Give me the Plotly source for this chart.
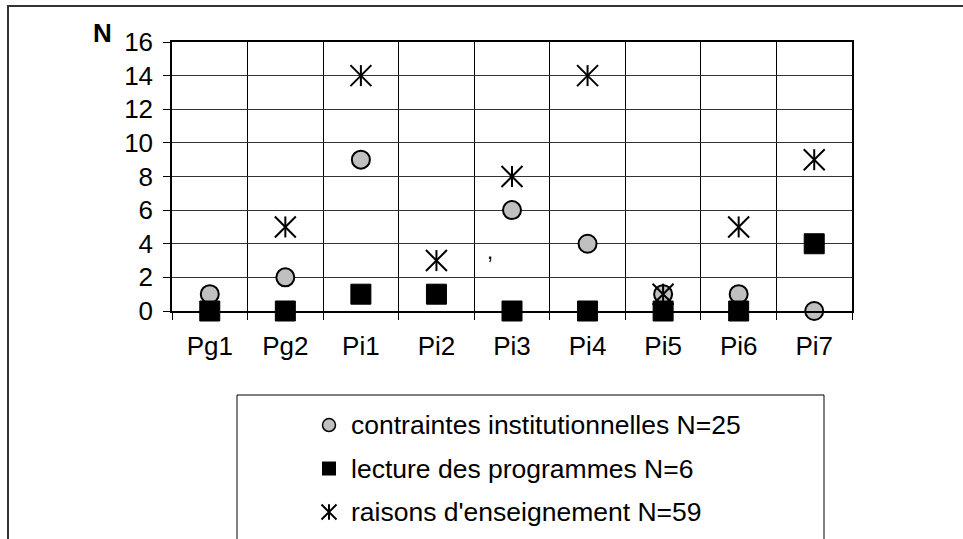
import plotly.graph_objects as go

categories = ['Pg1', 'Pg2', 'Pi1', 'Pi2', 'Pi3', 'Pi4', 'Pi5', 'Pi6', 'Pi7']
contraintes = [1, 2, 9, 1, 6, 4, 1, 1, 0]
lecture = [0, 0, 1, 1, 0, 0, 0, 0, 4]
raisons = [None, 5, 14, 3, 8, 14, 1, 5, 9]
y_ticks = [0, 2, 4, 6, 8, 10, 12, 14, 16]
legend_labels = ['contraintes institutionnelles N=25',
                 'lecture des programmes N=6',
                 "raisons d'enseignement N=59"]

W, H = 963, 539
FONT = 'Liberation Sans, Arial, sans-serif'


def px(x):
    return x / W


def py(y):
    return 1 - y / H


circle_m = dict(symbol='circle', size=18, color='#c0c0c0', line=dict(color='black', width=2))
square_m = dict(symbol='square', size=20, color='black', line=dict(color='black', width=1))
xstar_m = dict(symbol='x-thin-open', size=21, color='black', line=dict(color='black', width=2))
bar_m = dict(symbol='line-ns-open', size=15, color='black', line=dict(color='black', width=2))

fig = go.Figure()
fig.add_trace(go.Scatter(x=categories, y=contraintes, mode='markers', marker=circle_m, cliponaxis=False))
fig.add_trace(go.Scatter(x=categories, y=lecture, mode='markers', marker=square_m, cliponaxis=False))
# the six-armed star is an x plus a vertical bar
fig.add_trace(go.Scatter(x=categories, y=raisons, mode='markers', marker=xstar_m, cliponaxis=False))
fig.add_trace(go.Scatter(x=categories, y=raisons, mode='markers', marker=bar_m, cliponaxis=False))

# hand-made legend on a hidden axis pair (rows 0, 1, 2)
rows = [0, 1, 2]
lx = 329
fig.add_trace(go.Scatter(x=[lx], y=[rows[0]], xaxis='x2', yaxis='y2', mode='markers',
                         marker=dict(symbol='circle', size=13, color='#c0c0c0',
                                     line=dict(color='black', width=1.5)), cliponaxis=False))
fig.add_trace(go.Scatter(x=[lx], y=[rows[1]], xaxis='x2', yaxis='y2', mode='markers',
                         marker=dict(symbol='square', size=14, color='black'), cliponaxis=False))
fig.add_trace(go.Scatter(x=[lx], y=[rows[2]], xaxis='x2', yaxis='y2', mode='markers',
                         marker=dict(symbol='x-thin-open', size=15, color='black',
                                     line=dict(color='black', width=2)), cliponaxis=False))
fig.add_trace(go.Scatter(x=[lx], y=[rows[2]], xaxis='x2', yaxis='y2', mode='markers',
                         marker=dict(symbol='line-ns-open', size=11, color='black',
                                     line=dict(color='black', width=2)), cliponaxis=False))

annotations = []
for r, lab in zip(rows, legend_labels):
    annotations.append(dict(x=349, y=r, xref='x2', yref='y2', text=lab, showarrow=False,
                            xanchor='left', yanchor='middle',
                            font=dict(family=FONT, size=26.5, color='black')))
annotations.append(dict(x=px(102), y=py(33), xref='paper', yref='paper', text='<b>N</b>',
                        showarrow=False, xanchor='center', yanchor='middle',
                        font=dict(family=FONT, size=26, color='black')))
# stray mark in the original
annotations.append(dict(x=px(490), y=py(252), xref='paper', yref='paper', text=',',
                        showarrow=False, xanchor='center', yanchor='middle',
                        font=dict(family=FONT, size=22, color='black')))

shapes = [
    # outer frame
    dict(type='rect', xref='paper', yref='paper', x0=px(8), y0=-0.2, x1=1.2, y1=py(6),
         line=dict(color='#333', width=2), layer='below'),
    # legend box
    dict(type='rect', xref='paper', yref='paper', x0=px(237), y0=-0.2, x1=px(824), y1=py(395),
         line=dict(color='black', width=1), layer='below'),
]

fig.update_layout(
    width=W, height=H,
    margin=dict(l=0, r=0, t=0, b=0, pad=0, autoexpand=False),
    paper_bgcolor='white', plot_bgcolor='white',
    showlegend=False,
    font=dict(family=FONT, size=26, color='black'),
    xaxis=dict(domain=[px(172), px(852)], type='category', range=[-0.5, 8.5],
               tickson='boundaries', ticks='outside', ticklen=7, tickcolor='black',
               showgrid=True, gridcolor='black', gridwidth=1, automargin=False,
               showline=True, mirror=True, linecolor='black', linewidth=1.5,
               ticklabelstandoff=11, tickfont=dict(size=26)),
    yaxis=dict(domain=[py(311), py(42)], range=[0, 16], tickvals=y_ticks,
               ticks='outside', ticklen=7, tickcolor='black', automargin=False,
               showgrid=True, gridcolor='#333', gridwidth=1, zeroline=False,
               showline=True, mirror=True, linecolor='black', linewidth=1.5,
               ticklabelstandoff=5, tickfont=dict(size=26)),
    xaxis2=dict(domain=[px(237), px(824)], range=[237, 824], visible=False, anchor='y2'),
    yaxis2=dict(domain=[0, py(395)], range=[2.62, -0.69], visible=False, anchor='x2'),
    annotations=annotations,
    shapes=shapes,
)

fig.write_html('out.html', config={'displayModeBar': False},
               post_script="document.body.style.margin='0';")
